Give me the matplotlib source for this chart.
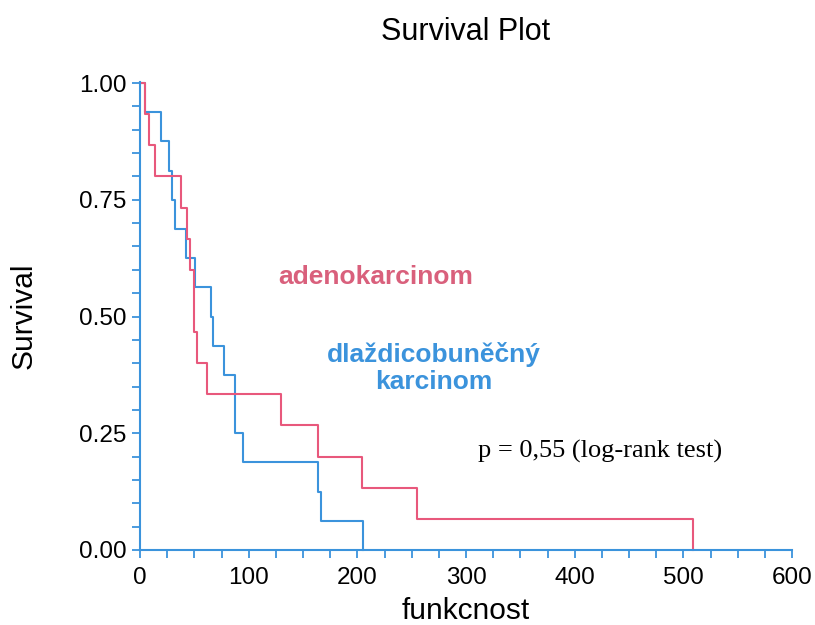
import numpy as np
import matplotlib
matplotlib.use('Agg')
import matplotlib.pyplot as plt
from matplotlib.ticker import MultipleLocator

# adenokarcinom (n=15) - step times and survival after each step
adeno_t = [0, 5, 8.5, 13.5, 37.5, 43, 46, 50, 52, 62, 130, 164, 204.5, 254.5, 508.5]
adeno_s = [1.0, 14/15, 13/15, 12/15, 11/15, 10/15, 9/15, 7/15, 6/15, 5/15, 4/15, 3/15, 2/15, 1/15, 0.0]

# dlazdicobunecny karcinom (n=16)
dlaz_t = [0, 5, 19, 27, 29, 32, 42.3, 50.6, 65, 67.5, 77.6, 87, 95, 164, 167, 205.5]
dlaz_s = [1.0, 15/16, 14/16, 13/16, 12/16, 11/16, 10/16, 9/16, 8/16, 7/16, 6/16, 4/16, 3/16, 2/16, 1/16, 0.0]

red = '#e8587c'
blue = '#3b93dc'

plt.rcParams['font.family'] = ['Liberation Sans', 'DejaVu Sans']

fig = plt.figure(figsize=(8.15, 6.25), dpi=100)
ax = fig.add_axes([140/815, 1-550/625, 652/815, (550-81.6)/625])

ax.step(dlaz_t, dlaz_s, where='post', color=blue, lw=1.5, clip_on=False)
ax.step(adeno_t, adeno_s, where='post', color=red, lw=1.5, clip_on=False)

ax.set_xlim(0, 600)
ax.set_ylim(0, 1.003)
for s in ['top', 'right']:
    ax.spines[s].set_visible(False)
for s in ['left', 'bottom']:
    ax.spines[s].set_color(blue)
    ax.spines[s].set_linewidth(1.5)

ax.xaxis.set_major_locator(MultipleLocator(100))
ax.xaxis.set_minor_locator(MultipleLocator(25))
ax.yaxis.set_major_locator(MultipleLocator(0.25))
ax.yaxis.set_minor_locator(MultipleLocator(0.05))
ax.tick_params(which='both', color=blue, length=6, width=1.3, labelsize=17.5, direction='out')
ax.tick_params(axis='x', pad=6)
ax.set_yticklabels(['%.2f' % v for v in ax.get_yticks()])

ax.set_xlabel('funkcnost', fontsize=21.5, labelpad=6)
ax.set_ylabel('Survival', fontsize=21.5, labelpad=30)
ax.set_title('Survival Plot', fontsize=22, pad=30)

ax.text(217, 0.585, 'adenokarcinom', color='#d9607c', fontsize=19, fontweight='bold',
        ha='center', va='center')
ax.text(270, 0.39, 'dlaždicobuněčný\nkarcinom', color=blue, fontsize=19, fontweight='bold',
        ha='center', va='center', linespacing=1.15)
ax.text(423, 0.21, 'p = 0,55 (log-rank test)', fontsize=19, family='Liberation Serif',
        ha='center', va='center')

fig.savefig('out.png', dpi=100)
